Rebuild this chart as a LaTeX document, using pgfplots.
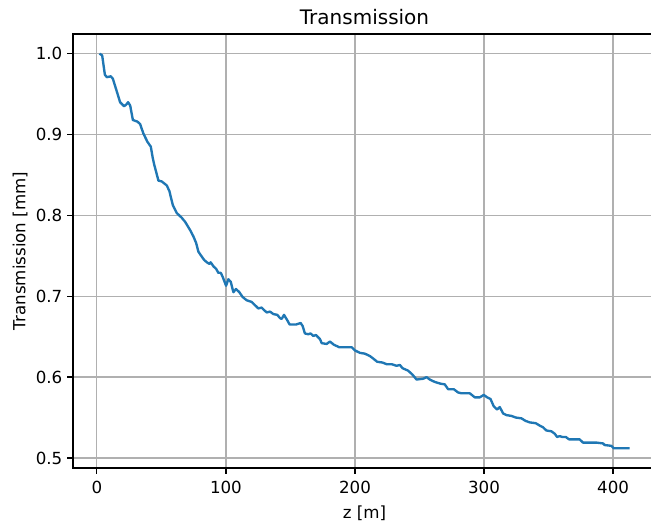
\documentclass[border=0pt]{standalone}
\usepackage{fontspec}
\setmainfont{DejaVu Sans}
\usepackage{pgfplots}
\pgfplotsset{compat=1.18}
\definecolor{mplblue}{HTML}{1F77B4}
\definecolor{mplgrid}{HTML}{B0B0B0}
\begin{document}
\begin{tikzpicture}
\begin{axis}[
    scale only axis,
    width=419.8pt, height=312.5pt,
    xmin=-18.5, xmax=433.3,
    ymin=0.4876, ymax=1.0244,
    xtick={0,100,200,300,400},
    ytick={0.5,0.6,0.7,0.8,0.9,1.0},
    yticklabel style={/pgf/number format/.cd, fixed, fixed zerofill, precision=1},
    /pgf/number format/assume math mode=true,
    every tick label/.append style={font=\fontsize{12}{14}\selectfont},
    xticklabel style={yshift=-2pt},
    tick align=outside,
    xtick pos=bottom, ytick pos=left,
    major tick length=4.2pt,
    every tick/.style={black, line width=0.9pt},
    axis line style={line width=0.9pt},
    grid=major,
    major grid style={mplgrid, line width=0.9pt},
    title={Transmission},
    title style={font=\fontsize{14.4}{17}\selectfont, yshift=-3pt},
    xlabel={z [m]},
    ylabel={Transmission [mm]},
    label style={font=\fontsize{12}{14}\selectfont},
    xlabel style={yshift=-1.5pt},
    ylabel style={yshift=-1pt},
]
\addplot[mplblue, line width=1.7pt, line join=round] coordinates {
(2,1.000) (4.1,0.998) (6.2,0.974) (7.7,0.971) (10.8,0.972) (12.4,0.969)
(15.5,0.953) (18,0.940) (21.1,0.935) (22.7,0.937) (24.2,0.940) (25.8,0.936)
(27.9,0.918) (31.4,0.916) (33.5,0.913) (36.1,0.901) (39.2,0.891) (41.8,0.885)
(43.3,0.871) (44.4,0.863) (45.9,0.854) (47.7,0.843) (50.3,0.842) (54.2,0.837)
(56.2,0.830) (58.8,0.813) (61.9,0.803) (65.8,0.797) (68.4,0.792) (72.2,0.782)
(74.8,0.774) (76.9,0.766) (78.7,0.755) (81.3,0.749) (83.1,0.745) (85.2,0.742)
(87.2,0.740) (88.2,0.742) (90.3,0.737) (92.4,0.734) (94.1,0.729) (96,0.729)
(97.5,0.724) (100.1,0.713) (101.9,0.721) (103.7,0.718) (105.8,0.705) (107.8,0.709)
(110.4,0.705) (113,0.699) (116.1,0.695) (120,0.693) (122.5,0.689) (125.1,0.685)
(127.7,0.686) (129.5,0.683) (131.6,0.680) (134.2,0.681) (136.7,0.678) (139.8,0.677)
(141.9,0.673) (143.2,0.672) (145,0.677) (147.3,0.671) (149.4,0.665) (152.2,0.665)
(154.3,0.665) (157.9,0.667) (159.5,0.663) (161.2,0.654) (163.8,0.653) (165.6,0.654)
(167.7,0.651) (169.8,0.652) (172.9,0.647) (174.2,0.642) (178,0.641) (180.6,0.644)
(183.7,0.640) (187.8,0.637) (197.4,0.637) (200,0.633) (203.8,0.630) (207.7,0.629)
(211.6,0.626) (214.1,0.623) (217.2,0.619) (221.4,0.618) (224.5,0.616) (228.4,0.616)
(232.2,0.614) (234.8,0.615) (236.9,0.611) (241.2,0.608) (244.6,0.603) (247.7,0.597)
(252.8,0.598) (255.5,0.600) (258,0.597) (261.9,0.594) (266,0.592) (269.6,0.591)
(272.2,0.585) (276.6,0.585) (279.9,0.581) (282.5,0.580) (289,0.580) (292.8,0.575)
(296.7,0.575) (299.8,0.578) (302.4,0.575) (305,0.573) (307.5,0.564) (310.1,0.560)
(312.2,0.563) (314.8,0.555) (317.4,0.553) (321.3,0.552) (324.6,0.550) (329,0.549)
(332,0.546) (335.4,0.544) (340.1,0.543) (343.2,0.540) (345.7,0.538) (348.3,0.534)
(352.2,0.533) (354.8,0.530) (356.6,0.526) (358.6,0.527) (360.7,0.526) (363.3,0.526)
(365.9,0.523) (374.1,0.523) (376.7,0.519) (387.1,0.519) (392.2,0.518) (393.5,0.516)
(398.7,0.515) (400.5,0.512) (412.8,0.512)
};
\end{axis}
% page = reference frame: axis box sits 73px from the left, 53px from the bottom
\pgfresetboundingbox
\path[use as bounding box] (current axis.south west) ++(-52.56pt,-38.16pt) rectangle ++(468.72pt,375.12pt);
\end{tikzpicture}
\end{document}
